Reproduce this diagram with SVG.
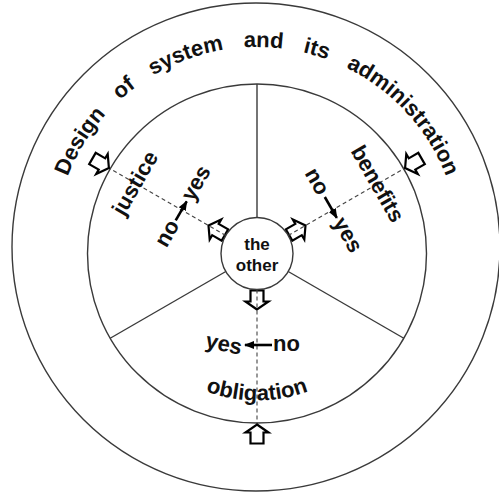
<svg xmlns="http://www.w3.org/2000/svg" xmlns:xlink="http://www.w3.org/1999/xlink" width="499" height="495" viewBox="0 0 499 495">
<style>
.ring{fill:none;stroke:#3a3a3a;stroke-width:1.4}
.div{stroke:#3a3a3a;stroke-width:1.4;fill:none}
.dash{stroke:#444;stroke-width:1.1;stroke-dasharray:4 3;fill:none}
.blk{fill:#fff;stroke:#000;stroke-width:2.2;stroke-linejoin:miter}
.t{font-family:"Liberation Sans",Arial,sans-serif;font-weight:bold;font-size:22px;fill:#111}
.sa{stroke:#000;stroke-width:2.6;marker-end:url(#ah)}
</style>
<defs>
<path id="blk" d="M0,0 L11.5,8 L6.5,8 L6.5,19 L-6.5,19 L-6.5,8 L-11.5,8 Z"/>
<marker id="ah" markerUnits="userSpaceOnUse" markerWidth="10" markerHeight="10" viewBox="0 0 10 10" refX="9" refY="5" orient="auto"><path d="M0,1 L10,5 L0,9 Z" fill="#000"/></marker>
<path id="topArc" d="M 54 250 A 203 203 0 0 1 460 250"/>
<path id="botArc" d="M 110 253.5 A 147 147 0 0 0 404 253.5"/>
</defs>
<rect width="499" height="495" fill="#fff"/>
<g id="rings">
<circle class="ring" cx="256" cy="247" r="244"/>
<circle class="ring" cx="257" cy="253.5" r="169.5"/>
</g>
<g id="connectors">
<line class="div" x1="257" y1="84" x2="257" y2="217.5"/>
<line class="div" x1="288.2" y1="271.5" x2="403.8" y2="338.25"/>
<line class="div" x1="225.8" y1="271.5" x2="110.2" y2="338.25"/>
<use href="#blk" class="blk" transform="translate(257,309.5) rotate(180)"/>
<use href="#blk" class="blk" transform="translate(208.5,225.5) rotate(-60)"/>
<use href="#blk" class="blk" transform="translate(305.5,225.5) rotate(60)"/>
<line class="dash" x1="225.8" y1="235.5" x2="108.9" y2="168"/>
<line class="dash" x1="288.2" y1="235.5" x2="405.1" y2="168"/>
<line class="dash" x1="257" y1="289.5" x2="257" y2="424.5"/>
<use href="#blk" class="blk" transform="translate(257,424.5)"/>
<use href="#blk" class="blk" transform="translate(108.9,168) rotate(120)"/>
<use href="#blk" class="blk" transform="translate(405.1,168) rotate(-120)"/>
<line class="sa" transform="translate(181.7,210) rotate(-60)" x1="-12" y1="0" x2="10" y2="0"/>
<line class="sa" transform="translate(332.3,210) rotate(60)" x1="-15" y1="0" x2="9" y2="0"/>
<line class="sa" transform="translate(257,345)" x1="15" y1="0" x2="-12" y2="0"/>
</g>
<g id="the-other">
<circle cx="257" cy="253.5" r="36" fill="#fff" stroke="#3a3a3a" stroke-width="1.4"/>
<text class="t" style="font-size:17px" x="257" y="250" text-anchor="middle">the</text>
<text class="t" style="font-size:17px" x="257" y="270.5" text-anchor="middle">other</text>
</g>
<g id="design">
<text class="t" style="word-spacing:14px"><textPath href="#topArc" startOffset="50%" text-anchor="middle">Design of system and its administration</textPath></text>
</g>
<g id="justice">
<text class="t" transform="translate(141.4,186.75) rotate(-60)" text-anchor="middle">justice</text>
<g transform="translate(181.7,210) rotate(-60)">
<text class="t" x="-14" y="6" text-anchor="end">no</text>
<text class="t" x="12" y="6">yes</text>
</g>
</g>
<g id="benefits">
<text class="t" transform="translate(371.3,187.5) rotate(60)" text-anchor="middle">benefits</text>
<g transform="translate(332.3,210) rotate(60)">
<text class="t" x="-19" y="6" text-anchor="end">no</text>
<text class="t" x="11" y="6">yes</text>
</g>
</g>
<g id="obligation">
<text class="t"><textPath href="#botArc" startOffset="50%" text-anchor="middle">obligation</textPath></text>
<g transform="translate(257,345)">
<text class="t" x="16" y="6">no</text>
<text class="t" x="-15" y="6" text-anchor="end" transform="rotate(12,-34,0)">yes</text>
</g>
</g>
</svg>
